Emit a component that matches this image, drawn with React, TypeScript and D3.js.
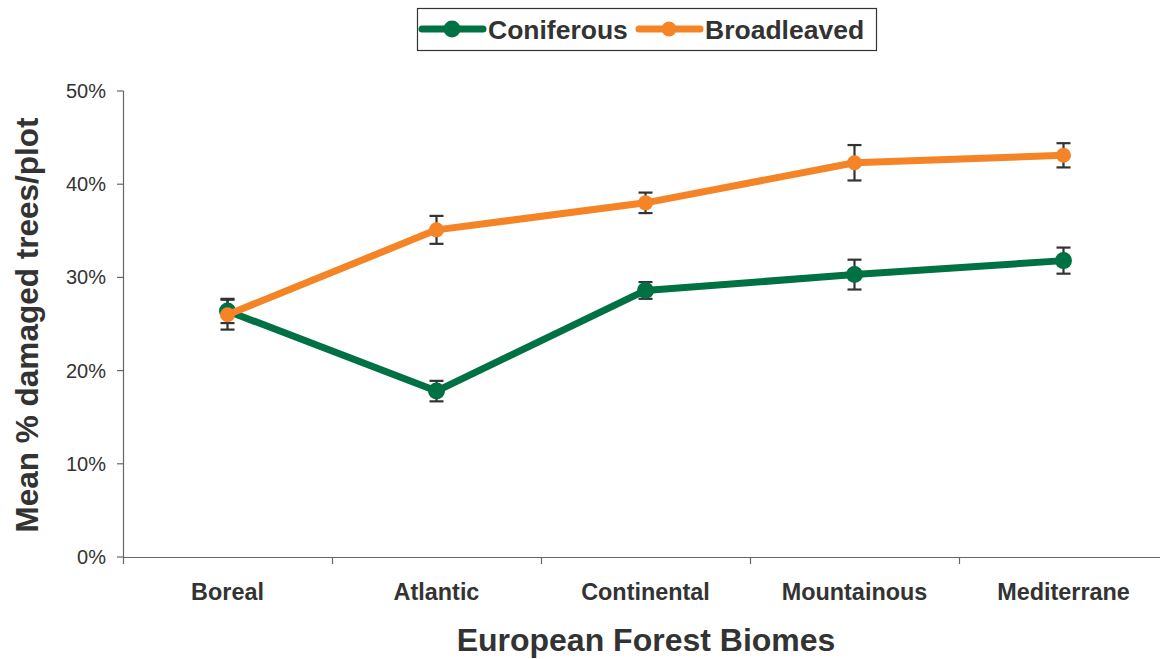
import React from 'react';
import * as d3 from 'd3';

// Chart data
const biomes = ['Boreal', 'Atlantic', 'Continental', 'Mountainous', 'Mediterrane'];
const coniferous = [26.4, 17.8, 28.6, 30.3, 31.8];
const coniferousErr = [1.3, 1.1, 0.9, 1.6, 1.4];
const broadleaved = [26.0, 35.1, 38.0, 42.3, 43.1];
const broadleavedErr = [1.6, 1.5, 1.1, 1.9, 1.3];
const yTicks = [0, 10, 20, 30, 40, 50];

const W = 1165;
const H = 659;
const GREEN = '#007143';
const ORANGE = '#F58426';
const INK = '#333333';

const series = [
  { name: 'Coniferous', color: GREEN, values: coniferous, err: coniferousErr, r: 8.5 },
  { name: 'Broadleaved', color: ORANGE, values: broadleaved, err: broadleavedErr, r: 7.5 },
];

const App: React.FC = () => {
  const x = d3.scaleBand<string>().domain(biomes).range([123, 1168]);
  const y = d3.scaleLinear().domain([0, 50]).range([557, 91]);
  const cx = (b: string) => (x(b) || 0) + x.bandwidth() / 2;

  const line = d3.line<number>()
    .x((_, i) => cx(biomes[i]))
    .y(d => y(d));

  const boundaries = biomes.map(b => x(b) || 0);

  return (
    <svg width={W} height={H} style={{ position: 'absolute', left: 0, top: 0, background: '#fff' }}
      fontFamily="Liberation Sans, Arial, sans-serif">
      {/* legend */}
      <rect x={417.5} y={8.5} width={459} height={42} fill="#fff" stroke={INK} strokeWidth={1.2} />
      {series.map((s, i) => {
        const lx = i === 0 ? 422 : 639;
        return (
          <g key={s.name}>
            <line x1={lx} x2={lx + 61} y1={29} y2={29} stroke={s.color} strokeWidth={7} strokeLinecap="round" />
            <circle cx={lx + 30} cy={29} r={s.r} fill={s.color} />
            <text x={lx + 66} y={38.5} fontSize={26.5} fontWeight="bold" fill={INK}>{s.name}</text>
          </g>
        );
      })}

      {/* y axis */}
      <line x1={123.5} x2={123.5} y1={y(50)} y2={y(0)} stroke="#666" strokeWidth={1.2} />
      {yTicks.map(t => (
        <g key={t}>
          <line x1={117} x2={123.5} y1={y(t)} y2={y(t)} stroke="#666" strokeWidth={1.2} />
          <text x={106} y={y(t) + 7} fontSize={20} fill={INK} textAnchor="end">{t}%</text>
        </g>
      ))}

      {/* x axis */}
      <line x1={123} x2={1160} y1={557.5} y2={557.5} stroke="#666" strokeWidth={1.2} />
      {boundaries.map((b, i) => (
        <line key={i} x1={b + 0.5} x2={b + 0.5} y1={557} y2={564} stroke="#666" strokeWidth={1.2} />
      ))}
      {biomes.map(b => (
        <text key={b} x={cx(b)} y={600} fontSize={23.4} fontWeight="bold" fill={INK} textAnchor="middle">{b}</text>
      ))}

      {/* axis titles */}
      <text x={646} y={651} fontSize={32} fontWeight="bold" fill={INK} textAnchor="middle">European Forest Biomes</text>
      <text transform={`translate(38,${325}) rotate(-90)`} fontSize={31.5} fontWeight="bold" fill={INK}
        textAnchor="middle">Mean % damaged trees/plot</text>

      {/* error bars */}
      {series.map(s => (
        <g key={s.name + '-err'}>
          {s.values.map((v, i) => {
            const px = cx(biomes[i]);
            const top = y(v + s.err[i]);
            const bot = y(v - s.err[i]);
            return (
              <g key={i} stroke={INK} strokeWidth={2.2}>
                <line x1={px} x2={px} y1={top} y2={bot} />
                <line x1={px - 7} x2={px + 7} y1={top} y2={top} />
                <line x1={px - 7} x2={px + 7} y1={bot} y2={bot} />
              </g>
            );
          })}
        </g>
      ))}

      {/* lines and markers */}
      {series.map(s => (
        <g key={s.name}>
          <path d={line(s.values) || ''} fill="none" stroke={s.color} strokeWidth={7} strokeLinejoin="round" />
          {s.values.map((v, i) => (
            <circle key={i} cx={cx(biomes[i])} cy={y(v)} r={s.r} fill={s.color} />
          ))}
        </g>
      ))}
    </svg>
  );
};

export default App;
